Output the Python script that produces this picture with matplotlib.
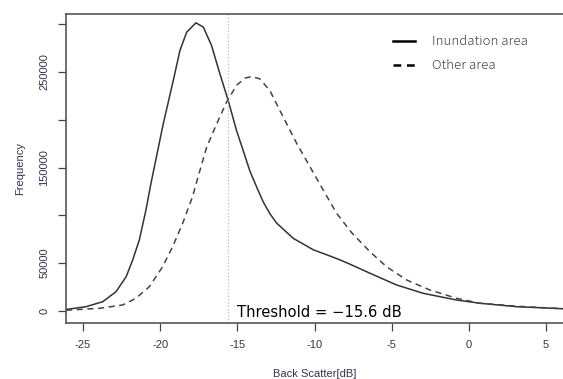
import matplotlib
matplotlib.use("Agg")
import matplotlib.pyplot as plt
from matplotlib.lines import Line2D

# values
inund_x = [-26.1, -25.99, -24.8, -23.72, -22.86, -22.2, -21.78, -21.35, -20.92, -20.6,
           -19.8, -19.15, -18.72, -18.28, -17.68, -17.2, -16.67, -16.13, -15.59, -15.05,
           -14.62, -14.18, -13.65, -13.32, -12.9, -12.46, -11.38, -10.08, -9.0, -8.36,
           -7.71, -6.41, -4.68, -2.96, -0.8, 0.71, 3.09, 5.9, 6.2]
inund_y = [1500, 1800, 4500, 9700, 20200, 35900, 53300, 74300, 105600, 133000,
           195600, 241000, 272300, 291500, 301300, 296800, 277500, 248000, 220000, 188600,
           167700, 146000, 126000, 114000, 102000, 92000, 76000, 64000, 57500, 53500,
           49000, 39500, 27200, 18500, 11500, 8100, 4500, 2500, 2300]

other_x = [-26.1, -25.9, -23.94, -22.43, -21.57, -20.7, -19.84, -19.19, -18.54, -17.9,
           -17.6, -16.99, -16.34, -15.7, -15.05, -14.5, -14.07, -13.54, -12.89, -12.24,
           -11.16, -10.3, -9.44, -8.57, -7.6, -6.41, -5.33, -4.03, -2.53, -0.8,
           0.71, 3.09, 5.9, 6.2]
other_y = [800, 1000, 2800, 6300, 13300, 25400, 46300, 67300, 91700, 119600,
           137000, 171200, 195600, 218300, 236000, 243500, 245100, 242700, 230400, 209500,
           175400, 151000, 126600, 102200, 82000, 62000, 46300, 32400, 22000, 13300,
           8100, 5000, 2500, 2300]

threshold = -15.6
x_ticks = [-25, -20, -15, -10, -5, 0, 5]
y_ticks = [0, 50000, 100000, 150000, 200000, 250000, 300000]
y_labels = ["0", "50000", "", "150000", "", "250000", ""]

fig = plt.figure(figsize=(5.63, 3.79), dpi=100)
ax = fig.add_axes([66 / 563, 1 - 323 / 379, 1 - 66 / 563, (323 - 14) / 379])

ax.plot(inund_x, inund_y, color="#333333", lw=1.1)
ax.plot(other_x, other_y, color="#444444", lw=1.1, ls=(0, (4, 3)))
ax.axvline(threshold, color="#bbbbbb", lw=0.9, ls=":")

ax.text(threshold + 0.55, -6500, "Threshold = \u221215.6 dB", fontsize=10.6, color="black",
        ha="left", va="baseline", family="DejaVu Sans")

ax.set_xlim(-26.1, 6.1)
ax.set_ylim(-12550, 310500)

tick_color = "#33334d"
ax.set_xticks(x_ticks)
ax.set_xticklabels([str(v) for v in x_ticks], fontsize=8, color=tick_color,
                   family="Liberation Sans")
ax.set_yticks(y_ticks)
ax.set_yticklabels(y_labels, fontsize=8, color=tick_color, family="Liberation Sans",
                   rotation=90, va="center")
ax.tick_params(axis="both", length=6, width=0.9, color="#444444", pad=6)

for side in ["left", "top", "bottom"]:
    ax.spines[side].set_color("#555555")
    ax.spines[side].set_linewidth(1.2)
ax.spines["right"].set_visible(False)

ax.set_xlabel("Back Scatter[dB]", fontsize=8, color=tick_color, family="Liberation Sans",
              labelpad=14)
ax.set_ylabel("Frequency", fontsize=8, color=tick_color, family="Liberation Sans",
              labelpad=10)

handles = [Line2D([], [], color="black", lw=1.8),
           Line2D([], [], color="black", lw=1.8, ls=(0, (3.1, 2.3)))]
leg = ax.legend(handles, ["Inundation area", "Other area"],
                loc="upper left", bbox_to_anchor=(0.635, 0.97), frameon=False,
                handlelength=1.6, handletextpad=1.3, labelspacing=0.85,
                prop={"family": "Noto Sans CJK JP", "size": 9.5, "weight": "light"})
for t in leg.get_texts():
    t.set_color("#444444")

fig.savefig("out.png", dpi=100)
